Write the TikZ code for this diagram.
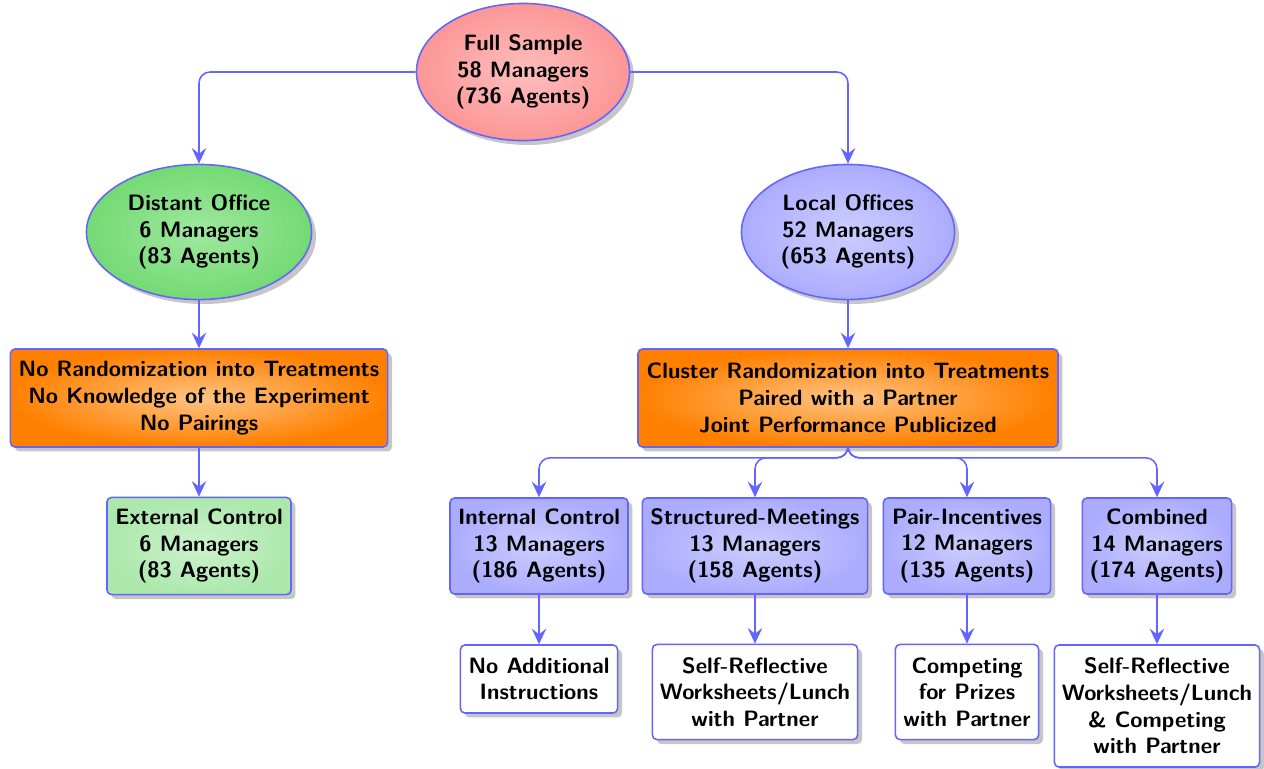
\documentclass[tikz,border=0pt]{standalone}
\usetikzlibrary{shapes.geometric,shadows,arrows.meta}
\definecolor{lineblue}{RGB}{100,100,255}
\definecolor{pinkout}{RGB}{252,150,150}
\definecolor{pinkin}{RGB}{255,190,190}
\definecolor{greenout}{RGB}{115,218,115}
\definecolor{greenin}{RGB}{160,232,160}
\definecolor{orangeout}{RGB}{255,128,0}
\definecolor{orangein}{RGB}{255,195,130}
\definecolor{blueout}{RGB}{172,172,255}
\definecolor{bluein}{RGB}{205,205,255}
\definecolor{lgreenout}{RGB}{172,232,172}
\definecolor{lgreenin}{RGB}{205,242,205}
\begin{document}
\begin{tikzpicture}[x=0.45pt,y=-0.45pt,
  every node/.style={font=\sffamily\bfseries, align=center, draw=lineblue, line width=0.7pt, inner sep=0pt},
  shad/.style={drop shadow={opacity=0.45, shadow xshift=2pt, shadow yshift=-2pt}},
  ell/.style={ellipse, shad},
  rbox/.style={rectangle, rounded corners=2pt, shad},
  pinkfill/.style={inner color=pinkin, outer color=pinkout},
  greenfill/.style={inner color=greenin, outer color=greenout},
  orangefill/.style={inner color=orangein, outer color=orangeout},
  bluefill/.style={inner color=bluein, outer color=blueout},
  lgreenfill/.style={inner color=lgreenin, outer color=lgreenout},
  whitebox/.style={rbox, fill=white},
  conn/.style={draw=lineblue, line width=0.7pt, rounded corners=5pt, -{Stealth[length=7pt,width=6.5pt,inset=2.5pt]}}
]
\useasboundingbox (0,0) rectangle (1264,768);

\node[ell, pinkfill, minimum width=95.9pt, minimum height=61.7pt] (full) at (523,72) {Full Sample\\58 Managers\\(736 Agents)};
\node[ell, greenfill, minimum width=101.3pt, minimum height=60.8pt] (distant) at (199,232) {Distant Office\\6 Managers\\(83 Agents)};
\node[ell, bluefill, minimum width=95.9pt, minimum height=60.8pt] (local) at (848,232) {Local Offices\\52 Managers\\(653 Agents)};

\node[rbox, orangefill, minimum width=169.7pt, minimum height=44.1pt] (norand) at (199,398) {No Randomization into Treatments\\No Knowledge of the Experiment\\No Pairings};
\node[rbox, orangefill, minimum width=189pt, minimum height=44.1pt] (cluster) at (848,398) {Cluster Randomization into Treatments\\Paired with a Partner\\Joint Performance Publicized};

\node[rbox, lgreenfill, minimum width=82.8pt, minimum height=43.7pt] (ext) at (199,546) {External Control\\6 Managers\\(83 Agents)};
\node[rbox, bluefill, minimum width=80.1pt, minimum height=43.2pt] (int) at (539,546) {Internal Control\\13 Managers\\(186 Agents)};
\node[rbox, bluefill, minimum width=101.3pt, minimum height=43.2pt] (struct) at (755,546) {Structured-Meetings\\13 Managers\\(158 Agents)};
\node[rbox, bluefill, minimum width=75.2pt, minimum height=43.2pt] (pair) at (967,546) {Pair-Incentives\\12 Managers\\(135 Agents)};
\node[rbox, bluefill, minimum width=67.1pt, minimum height=43.2pt] (comb) at (1157,546) {Combined\\14 Managers\\(174 Agents)};

\node[whitebox, minimum width=70.7pt, minimum height=30.6pt] (noadd) at (539,679) {No Additional\\Instructions};
\node[whitebox, minimum width=92.3pt, minimum height=42.8pt] (selfref) at (755,692) {Self-Reflective\\Worksheets/Lunch\\with Partner};
\node[whitebox, minimum width=64.4pt, minimum height=42.8pt] (compet) at (967,692) {Competing\\for Prizes\\with Partner};
\node[whitebox, minimum width=92.3pt, minimum height=54.9pt] (combb) at (1157,706) {Self-Reflective\\Worksheets/Lunch\\\& Competing\\with Partner};

\draw[conn] (full.west) -| (distant.north);
\draw[conn] (full.east) -| (local.north);
\draw[conn] (distant.south) -- (norand.north);
\draw[conn] (local.south) -- (cluster.north);
\draw[conn] (norand.south) -- (ext.north);
\draw[conn] (cluster.south) -- ++(0,10) -| (int.north);
\draw[conn] (cluster.south) -- ++(0,10) -| (struct.north);
\draw[conn] (cluster.south) -- ++(0,10) -| (pair.north);
\draw[conn] (cluster.south) -- ++(0,10) -| (comb.north);
\draw[conn] (int.south) -- (noadd.north);
\draw[conn] (struct.south) -- (selfref.north);
\draw[conn] (pair.south) -- (compet.north);
\draw[conn] (comb.south) -- (combb.north);
\end{tikzpicture}
\end{document}
